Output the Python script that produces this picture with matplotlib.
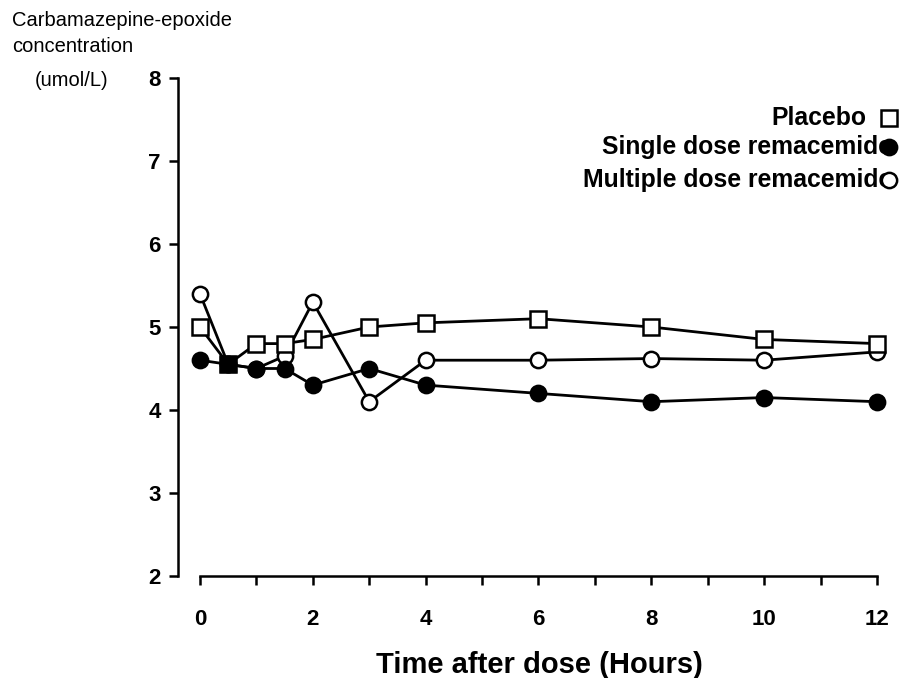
import matplotlib
matplotlib.use("Agg")
import matplotlib.pyplot as plt
from matplotlib.lines import Line2D
from matplotlib.ticker import MultipleLocator

plt.rcParams['font.family'] = ['Liberation Sans', 'DejaVu Sans']

# time after dose (hours) and concentrations (umol/L)
hours = [0, 0.5, 1, 1.5, 2, 3, 4, 6, 8, 10, 12]
placebo = [5.0, 4.55, 4.8, 4.8, 4.85, 5.0, 5.05, 5.1, 5.0, 4.85, 4.8]
single = [4.6, 4.55, 4.5, 4.5, 4.3, 4.5, 4.3, 4.2, 4.1, 4.15, 4.1]
multiple = [5.4, 4.55, 4.5, 4.65, 5.3, 4.1, 4.6, 4.6, 4.62, 4.6, 4.7]
labels = ["Placebo", "Single dose remacemide", "Multiple dose remacemide"]

W, H = 902, 678
fig = plt.figure(figsize=(W / 100, H / 100), dpi=100)
ax = fig.add_axes([178 / W, 1 - 576 / H, (890 - 178) / W, (576 - 78) / H])

lw = 2.0
ms_sq, ms_c = 11.5, 11
ax.plot(hours, multiple, color="black", lw=lw, marker="o", ms=ms_c,
        mfc="white", mec="black", mew=1.8, clip_on=False, zorder=3)
ax.plot(hours, placebo, color="black", lw=lw, marker="s", ms=ms_sq,
        mfc="white", mec="black", mew=1.8, clip_on=False, zorder=4)
ax.plot(hours, single, color="black", lw=lw, marker="o", ms=ms_c,
        mfc="black", mec="black", mew=1.8, clip_on=False, zorder=5)
# where all three series meet, the overlapping marks print as a solid square
ax.plot(hours[1], placebo[1], color="black", marker="s", ms=ms_sq,
        clip_on=False, zorder=6)

ax.set_xlim(-22 / 56.42, 12 + 13 / 56.42)
ax.set_ylim(2, 8)
ax.xaxis.set_major_locator(MultipleLocator(2))
ax.xaxis.set_minor_locator(MultipleLocator(1))
ax.yaxis.set_major_locator(MultipleLocator(1))

for side in ["top", "right"]:
    ax.spines[side].set_visible(False)
ax.spines["left"].set_bounds(2, 8)
ax.spines["bottom"].set_bounds(0, 12)
for side in ["left", "bottom"]:
    ax.spines[side].set_linewidth(1.8)

ax.tick_params(which="both", direction="out", length=6.5, width=1.8)
ax.tick_params(axis="y", pad=6, labelsize=16)
ax.tick_params(axis="x", which="major", pad=17, labelsize=16)
for lab in ax.get_xticklabels() + ax.get_yticklabels():
    lab.set_fontweight("bold")

ax.set_xlabel("Time after dose (Hours)", fontsize=21, fontweight="bold")
ax.xaxis.set_label_coords(0.508, -0.15)

# y axis title, top left
fig.text(12 / W, 1 - 20 / H, "Carbamazepine-epoxide", fontsize=14.5,
         ha="left", va="center")
fig.text(12 / W, 1 - 47 / H, "concentration", fontsize=14.5,
         ha="left", va="center")
fig.text(35 / W, 1 - 81 / H, "(umol/L)", fontsize=14.5,
         ha="left", va="center")

# legend: right-aligned labels with markers at the end
rows = [118, 147, 180]
text_right = [866, 892, 892]
styles = [dict(marker="s", ms=ms_sq, mfc="white"),
          dict(marker="o", ms=ms_c, mfc="black"),
          dict(marker="o", ms=ms_c, mfc="white")]
for lab, yy, xr, st in zip(labels, rows, text_right, styles):
    fig.text(xr / W, 1 - yy / H, lab, fontsize=17.8, fontweight="bold",
             ha="right", va="center")
    fig.add_artist(Line2D([889 / W], [1 - yy / H], color="black", ls="none",
                          mec="black", mew=1.8, transform=fig.transFigure,
                          zorder=10, **st))

fig.savefig("out.png", dpi=100)
